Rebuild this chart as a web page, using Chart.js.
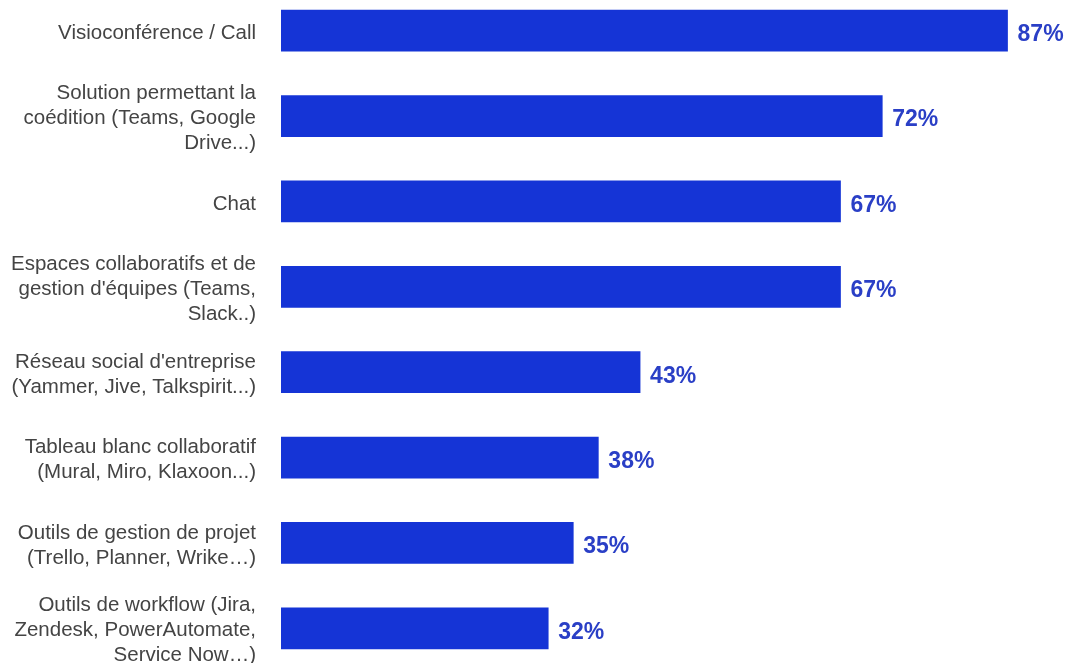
<!DOCTYPE html>
<html>
<head>
<meta charset="utf-8">
<script src="https://cdn.jsdelivr.net/npm/chart.js@4/dist/chart.umd.min.js"></script>
<style>
  html, body { margin: 0; padding: 0; background: #ffffff; overflow: hidden; }
  #wrap { position: absolute; left: 0; top: -12px; width: 1066px; height: 683px; }
</style>
</head>
<body>
<div id="wrap"><canvas id="c"></canvas></div>
<script>
// Outils utilisés pour le travail collaboratif (% des répondants)
const categories = [
  ["Visioconférence / Call"],
  ["Solution permettant la", "coédition (Teams, Google", "Drive...)"],
  ["Chat"],
  ["Espaces collaboratifs et de", "gestion d'équipes (Teams,", "Slack..)"],
  ["Réseau social d'entreprise", "(Yammer, Jive, Talkspirit...)"],
  ["Tableau blanc collaboratif", "(Mural, Miro, Klaxoon...)"],
  ["Outils de gestion de projet", "(Trello, Planner, Wrike…)"],
  ["Outils de workflow (Jira,", "Zendesk, PowerAutomate,", "Service Now…)"]
];
const values = [87, 72, 67, 67, 43, 38, 35, 32];

const BAR_COLOR = '#1534d6';
const VALUE_COLOR = '#2a3fc6';

// Percentage printed just after the end of each bar
const valueLabels = {
  id: 'valueLabels',
  afterDatasetsDraw(chart) {
    const ctx = chart.ctx;
    const meta = chart.getDatasetMeta(0);
    ctx.save();
    ctx.font = 'bold 23px "Liberation Sans", Arial, sans-serif';
    ctx.fillStyle = VALUE_COLOR;
    ctx.textAlign = 'left';
    ctx.textBaseline = 'middle';
    meta.data.forEach((bar, i) => {
      ctx.fillText(values[i] + '%', bar.x + 10, bar.y + 4);
    });
    ctx.restore();
  }
};

// Category labels sit a touch below the bar centre
function nudgeLabels(scale) {
  if (scale._nudged) return;
  scale._nudged = true;
  const original = scale.drawLabels.bind(scale);
  scale.drawLabels = function (area) {
    const ctx = scale.ctx;
    ctx.save();
    ctx.translate(0, 2.5);
    original(area);
    ctx.restore();
  };
}

new Chart(document.getElementById('c'), {
  type: 'bar',
  data: {
    labels: categories,
    datasets: [{
      data: values,
      backgroundColor: BAR_COLOR,
      borderWidth: 0,
      barThickness: 41,
      categoryPercentage: 1,
      barPercentage: 1
    }]
  },
  options: {
    indexAxis: 'y',
    responsive: true,
    maintainAspectRatio: false,
    animation: false,
    layout: { padding: 0 },
    plugins: {
      legend: { display: false },
      tooltip: { enabled: false }
    },
    scales: {
      x: {
        min: 0,
        max: 94,
        display: false,
        grid: { display: false }
      },
      y: {
        afterFit(scale) {
          scale.width = 281;
          scale.paddingTop = 0;
          scale.paddingBottom = 0;
          nudgeLabels(scale);
        },
        border: { display: false },
        grid: { display: false, drawTicks: false },
        ticks: {
          padding: 25,
          color: '#444444',
          font: { family: '"Liberation Sans", Arial, sans-serif', size: 20.5, lineHeight: 1.22 }
        }
      }
    }
  },
  plugins: [valueLabels]
});
</script>
</body>
</html>
